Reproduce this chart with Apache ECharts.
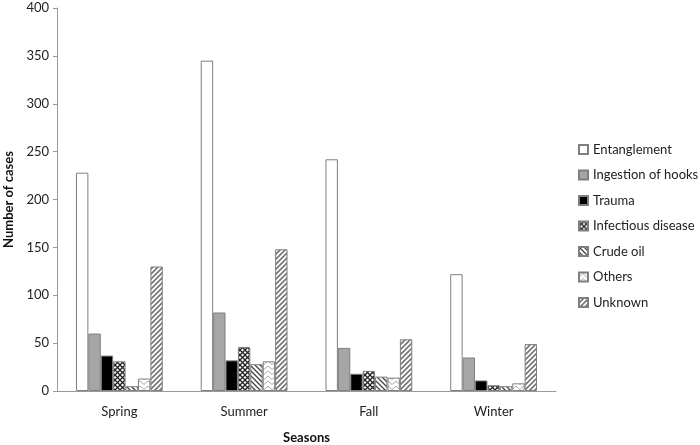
<!DOCTYPE html>
<html>
<head>
<meta charset="utf-8">
<script src="https://cdn.jsdelivr.net/npm/echarts@6/dist/echarts.min.js"></script>
<style>
  html, body { margin: 0; padding: 0; background: #fff; }
  #chart { width: 700px; height: 445px; }
</style>
</head>
<body>
<div id="chart"></div>
<script>
const seasons = ['Spring', 'Summer', 'Fall', 'Winter']

const entanglement = [228, 345, 242, 122]
const ingestionOfHooks = [60, 82, 45, 35]
const trauma = [37, 32, 18, 11]
const infectiousDisease = [31, 46, 21, 6]
const crudeOil = [5, 28, 15, 5]
const others = [13, 31, 14, 8]
const unknown = [130, 148, 54, 49]

const yTicks = [0, 50, 100, 150, 200, 250, 300, 350, 400]

// small canvas tiles used as fill patterns
function tile(w, h, draw) {
    const c = document.createElement('canvas')
    c.width = w
    c.height = h
    const ctx = c.getContext('2d')
    draw(ctx, w, h)
    return { image: c, repeat: 'repeat' }
}

const checkFill = tile(5, 5, (ctx, w, h) => {
    ctx.fillStyle = '#fff'
    ctx.fillRect(0, 0, w, h)
    ctx.strokeStyle = '#222'
    ctx.lineWidth = 1.3
    ctx.beginPath()
    ctx.moveTo(0, 0); ctx.lineTo(w, h)
    ctx.moveTo(w, 0); ctx.lineTo(0, h)
    ctx.stroke()
})

const backslashFill = tile(5, 5, (ctx, w, h) => {
    ctx.fillStyle = '#fff'
    ctx.fillRect(0, 0, w, h)
    ctx.strokeStyle = '#444'
    ctx.lineWidth = 1.3
    ctx.beginPath()
    ctx.moveTo(-1, -1); ctx.lineTo(w + 1, h + 1)
    ctx.moveTo(-1, h - 1); ctx.lineTo(1, h + 1)
    ctx.moveTo(w - 1, -1); ctx.lineTo(w + 1, 1)
    ctx.stroke()
})

const chevronFill = tile(8, 5, (ctx, w, h) => {
    ctx.fillStyle = '#fff'
    ctx.fillRect(0, 0, w, h)
    ctx.strokeStyle = '#aaa'
    ctx.lineWidth = 1
    ctx.beginPath()
    ctx.moveTo(0, 4.5); ctx.lineTo(4, 1); ctx.lineTo(8, 4.5)
    ctx.stroke()
})

const slashFill = tile(5, 5, (ctx, w, h) => {
    ctx.fillStyle = '#fff'
    ctx.fillRect(0, 0, w, h)
    ctx.strokeStyle = '#777'
    ctx.lineWidth = 1.7
    ctx.beginPath()
    ctx.moveTo(-1, h + 1); ctx.lineTo(w + 1, -1)
    ctx.moveTo(-1, 1); ctx.lineTo(1, -1)
    ctx.moveTo(w - 1, h + 1); ctx.lineTo(w + 1, h - 1)
    ctx.stroke()
})

const font = 'Lato'

function bar(name, data, fill) {
    return {
        name: name,
        type: 'bar',
        data: data,
        barWidth: 12.4,
        barGap: '0%',
        itemStyle: { color: fill, borderColor: '#7f7f7f', borderWidth: 1 }
    }
}

const chart = echarts.init(document.getElementById('chart'))

chart.setOption({
    backgroundColor: '#fff',
    animation: false,
    textStyle: { fontFamily: font },
    grid: { left: 57, right: 144, top: 8, bottom: 54, outerBoundsMode: 'none', containLabel: false },
    legend: {
        orient: 'vertical',
        left: 578,
        top: 143,
        padding: 0,
        icon: 'rect',
        itemWidth: 9,
        itemHeight: 9,
        itemGap: 12.5,
        textStyle: { fontSize: 13, color: '#222', fontFamily: font },
        data: ['Entanglement', 'Ingestion of hooks', 'Trauma', 'Infectious disease', 'Crude oil', 'Others', 'Unknown']
    },
    xAxis: {
        type: 'category',
        data: seasons,
        name: 'Seasons',
        nameLocation: 'middle',
        nameGap: 40,
        nameTextStyle: { fontSize: 13, fontWeight: 'bold', color: '#111' },
        axisLine: { lineStyle: { color: '#9a9a9a' } },
        axisTick: { show: false },
        axisLabel: { fontSize: 13, color: '#222', margin: 14 }
    },
    yAxis: {
        type: 'value',
        min: 0,
        max: yTicks[yTicks.length - 1],
        interval: 50,
        name: 'Number of cases',
        nameLocation: 'middle',
        nameGap: 40,
        nameTextStyle: { fontSize: 13, fontWeight: 'bold', color: '#111' },
        axisLine: { show: true, lineStyle: { color: '#9a9a9a' } },
        axisTick: { show: true, length: 4, lineStyle: { color: '#9a9a9a' } },
        axisLabel: { fontSize: 13, color: '#222', margin: 8 },
        splitLine: { show: false }
    },
    series: [
        bar('Entanglement', entanglement, '#fff'),
        bar('Ingestion of hooks', ingestionOfHooks, '#a6a6a6'),
        bar('Trauma', trauma, '#000'),
        bar('Infectious disease', infectiousDisease, checkFill),
        bar('Crude oil', crudeOil, backslashFill),
        bar('Others', others, chevronFill),
        bar('Unknown', unknown, slashFill)
    ]
})
</script>
</body>
</html>
